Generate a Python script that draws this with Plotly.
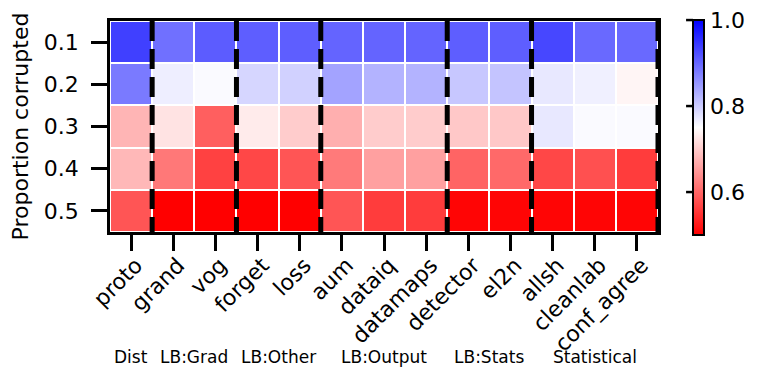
import plotly.graph_objects as go

methods = ["proto", "grand", "vog", "forget", "loss", "aum", "dataiq", "datamaps",
           "detector", "el2n", "allsh", "cleanlab", "conf_agree"]
proportions = ["0.1", "0.2", "0.3", "0.4", "0.5"]

row_01 = [0.937, 0.890, 0.910, 0.908, 0.908, 0.902, 0.902, 0.902, 0.908, 0.908, 0.930, 0.897, 0.897]
row_02 = [0.880, 0.767, 0.755, 0.790, 0.795, 0.840, 0.825, 0.825, 0.805, 0.808, 0.773, 0.765, 0.740]
row_03 = [0.677, 0.723, 0.593, 0.730, 0.700, 0.672, 0.700, 0.700, 0.696, 0.696, 0.773, 0.755, 0.755]
row_04 = [0.680, 0.618, 0.564, 0.570, 0.583, 0.620, 0.657, 0.657, 0.598, 0.603, 0.570, 0.578, 0.559]
row_05 = [0.583, 0.500, 0.500, 0.500, 0.500, 0.583, 0.559, 0.559, 0.505, 0.505, 0.505, 0.505, 0.505]
z_values = [row_01, row_02, row_03, row_04, row_05]

group_names = ["Dist", "LB:Grad", "LB:Other", "LB:Output", "LB:Stats", "Statistical"]
group_centers = [0, 1.5, 3.5, 6, 8.5, 11]
group_bounds = [0.5, 2.5, 4.5, 7.5, 9.5, 12.5]

cbar_ticks = [0.6, 0.8, 1.0]
ZMIN, ZMAX = 0.5, 1.0

FONT = "DejaVu Sans"

# layout geometry (px); page body adds an 8px offset
L, T, PW, PH = 102, 13, 548, 211
W, H = 762, 377
CB_X = 1.064
CB_LEN_PX = 215
CB_CENTER = 0.495

fig = go.Figure()
fig.add_trace(go.Heatmap(
    z=z_values,
    x=list(range(len(methods))),
    y=list(range(len(proportions))),
    zmin=ZMIN, zmax=ZMAX,
    colorscale=[[0, "rgb(255,0,0)"], [0.5, "rgb(255,255,255)"], [1, "rgb(0,0,255)"]],
    xgap=2, ygap=2,
    colorbar=dict(
        thickness=11, len=CB_LEN_PX, lenmode="pixels",
        x=CB_X, xanchor="left", xpad=0,
        y=CB_CENTER, yanchor="middle", ypad=0,
        outlinewidth=2, outlinecolor="black",
        tickvals=cbar_ticks, ticktext=[f"{v:.1f}" for v in cbar_ticks],
        ticks="", ticklabeloverflow="allow",
        tickfont=dict(family=FONT, size=22, color="black"),
    ),
))

# colorbar tick marks on the left side of the bar
cb_len_frac = CB_LEN_PX / PH
cb_bottom = CB_CENTER - cb_len_frac / 2
for v in cbar_ticks:
    yv = cb_bottom + (v - ZMIN) / (ZMAX - ZMIN) * cb_len_frac
    fig.add_shape(type="line", xref="paper", yref="paper",
                  x0=CB_X - 7 / PW, x1=CB_X, y0=yv, y1=yv,
                  line=dict(color="black", width=2.5))

for b in group_bounds:
    fig.add_shape(type="line", xref="x", yref="y", x0=b, x1=b, y0=-0.5, y1=4.5,
                  line=dict(color="black", width=5, dash="20px,8px"))

for name, c in zip(group_names, group_centers):
    fig.add_annotation(text=name, xref="x", yref="paper", x=c, y=-0.592,
                       showarrow=False, yanchor="middle", xanchor="center",
                       font=dict(family=FONT, size=17, color="black"))

fig.update_xaxes(
    tickvals=list(range(len(methods))), ticktext=methods, tickangle=-45,
    range=[-0.5, 12.5], showgrid=False, zeroline=False,
    showline=True, mirror=True, linewidth=2.5, linecolor="black",
    ticks="outside", ticklen=16, tickwidth=2.5, tickcolor="black",
    ticklabelshift=5, ticklabelstandoff=-7,
    tickfont=dict(family=FONT, size=22, color="black"),
)
fig.update_yaxes(
    tickvals=list(range(len(proportions))), ticktext=proportions,
    range=[4.5, -0.5], showgrid=False, zeroline=False,
    showline=True, mirror=True, linewidth=2.5, linecolor="black",
    ticks="outside", ticklen=16, tickwidth=2.5, tickcolor="black",
    ticklabelstandoff=8,
    tickfont=dict(family=FONT, size=22, color="black"),
    title=dict(text="Proportion corrupted", font=dict(family=FONT, size=22, color="black"), standoff=12),
)
fig.update_layout(
    width=W, height=H,
    margin=dict(l=L, r=W - L - PW, t=T, b=H - T - PH, autoexpand=False),
    plot_bgcolor="white", paper_bgcolor="white",
    font=dict(family=FONT, color="black"),
)
fig.write_html("out.html")
